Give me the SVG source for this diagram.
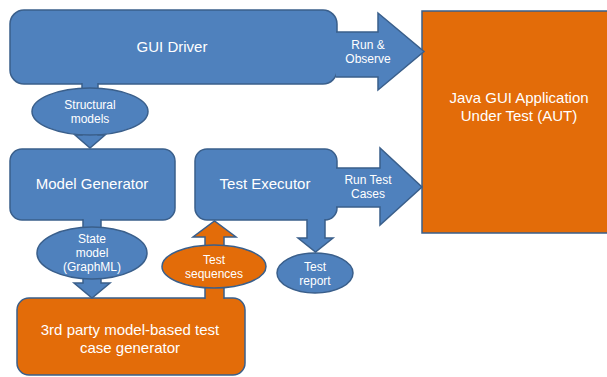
<svg xmlns="http://www.w3.org/2000/svg" width="607" height="377" viewBox="0 0 607 377">
<style>
.b{fill:#4F81BD;stroke:#3A5F8B;stroke-width:1.5}
.o{fill:#E36C09;stroke:#3A5F8B;stroke-width:1.5}
text{font-family:"Liberation Sans",Arial,sans-serif;fill:#FFFFFF;text-anchor:middle}
.t{font-size:15px}
.s{font-size:12px}
</style>
<rect width="607" height="377" fill="#FFFFFF"/>
<g id="aut">
<rect class="o" x="422" y="11" width="195" height="222"/>
<text class="t" x="519" y="102.5">Java GUI Application</text>
<text class="t" x="519" y="120.5">Under Test (AUT)</text>
</g>
<g id="gui-driver">
<rect class="b" x="10" y="10" width="327" height="74" rx="14"/>
<text class="t" x="172" y="51.5">GUI Driver</text>
</g>
<g id="model-generator">
<rect class="b" x="10" y="149" width="165" height="71" rx="12"/>
<text class="t" x="92" y="188.5">Model Generator</text>
</g>
<g id="test-executor">
<rect class="b" x="195" y="149" width="142" height="71" rx="12"/>
<text class="t" x="265" y="188.5">Test Executor</text>
</g>
<g id="tc-generator">
<rect class="o" x="17" y="298" width="228" height="77" rx="12"/>
<text class="t" x="130" y="334.5">3rd party model-based test</text>
<text class="t" x="130" y="352.5">case generator</text>
</g>
<g id="connectors">
<path class="b" d="M336,32 H378 V13 L424,51.5 L378,90 V77 H336"/>
<text class="s" x="368" y="49">Run &amp;</text>
<text class="s" x="368" y="63">Observe</text>
<path class="b" d="M82,83 V135 H75 L90,148 L105,135 H98 V83"/>
<path class="b" d="M83,219 V283 H74 L92,298 L110,283 H101 V219"/>
<path class="o" d="M205,299 V237 H193 L214.5,221 L236,237 H224 V299"/>
<path class="b" d="M307,219 V238 H298 L315.5,252 L333,238 H325 V219"/>
<path class="b" d="M336,168 H380 V148 L422,187 L380,225 V207 H336"/>
<text class="s" x="368" y="184">Run Test</text>
<text class="s" x="368" y="198">Cases</text>
</g>
<g id="structural-models">
<ellipse class="b" cx="90" cy="111.5" rx="58" ry="23.5"/>
<text class="s" x="90" y="109">Structural</text>
<text class="s" x="90" y="123">models</text>
</g>
<g id="state-model">
<ellipse class="b" cx="92" cy="253" rx="55" ry="26"/>
<text class="s" x="92" y="243">State</text>
<text class="s" x="92" y="257">model</text>
<text class="s" x="92" y="271">(GraphML)</text>
</g>
<g id="test-sequences">
<ellipse class="o" cx="214" cy="266.5" rx="52" ry="21.5"/>
<text class="s" x="214" y="264">Test</text>
<text class="s" x="214" y="278">sequences</text>
</g>
<g id="test-report">
<ellipse class="b" cx="315" cy="273" rx="38" ry="20"/>
<text class="s" x="315" y="271">Test</text>
<text class="s" x="315" y="285">report</text>
</g>
</svg>
